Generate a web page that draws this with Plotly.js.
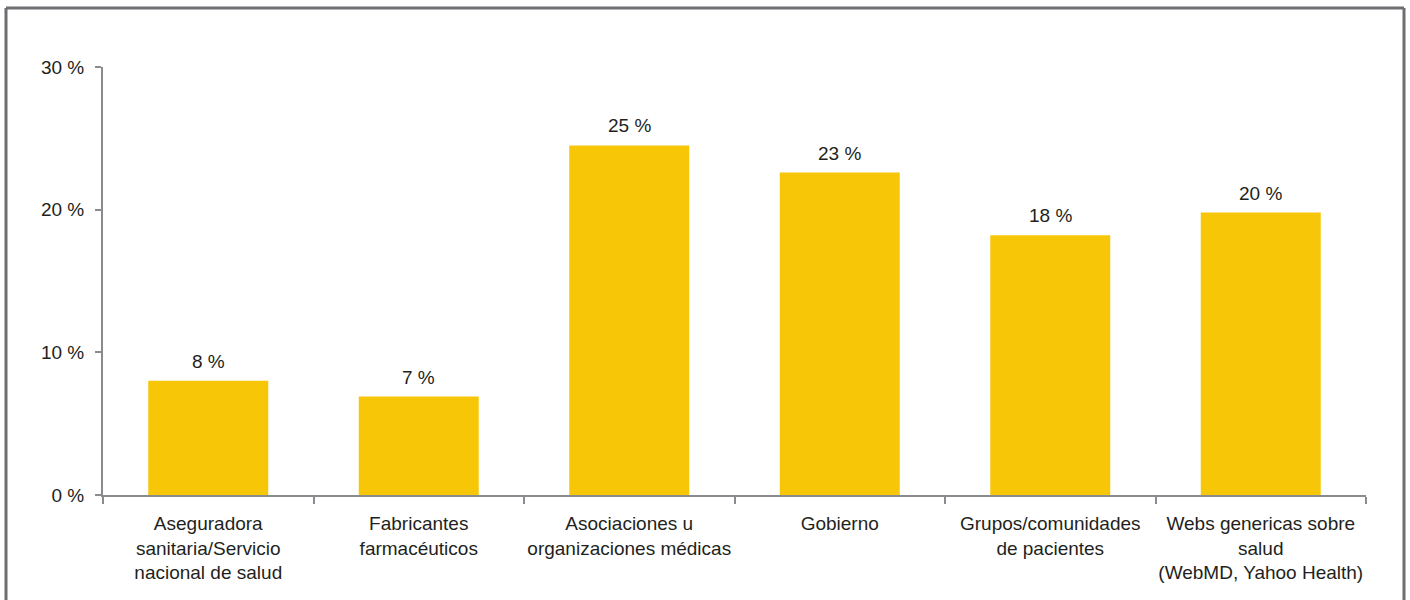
<!DOCTYPE html>
<html>
<head>
<meta charset="utf-8">
<script src="https://cdn.plot.ly/plotly-3.0.1.min.js"></script>
<style>
html,body{margin:0;padding:0;background:#fff;}
#chart{width:1410px;height:600px;}
</style>
</head>
<body>
<div id="chart"></div>
<script>
const categories = [
  "Aseguradora<br>sanitaria/Servicio<br>nacional de salud",
  "Fabricantes<br>farmacéuticos",
  "Asociaciones u<br>organizaciones médicas",
  "Gobierno",
  "Grupos/comunidades<br>de pacientes",
  "Webs genericas sobre<br>salud<br>(WebMD, Yahoo Health)"
];
const values = [8.0, 6.9, 24.5, 22.6, 18.2, 19.8];
const valueLabels = ["8 %", "7 %", "25 %", "23 %", "18 %", "20 %"];
const yTicks = [0, 10, 20, 30];
const yTickLabels = ["0 %", "10 %", "20 %", "30 %"];

const textColor = "#231f20";
const axisColor = "#8a8b8e";
const font = {family: "Liberation Sans, Arial, Helvetica, sans-serif", size: 19, color: textColor};

const trace = {
  type: "bar",
  x: categories,
  y: values,
  marker: {color: "#f7c607", line: {width: 0}},
  width: 0.57,
  hoverinfo: "skip"
};

const annotations = categories.map((c, i) => ({
  x: c,
  y: values[i],
  xref: "x",
  yref: "y",
  text: valueLabels[i],
  showarrow: false,
  yanchor: "bottom",
  yshift: 7,
  font: font
}));

const px = v => (v - 103) / 1263;
const py = v => (495 - v) / 428;

const layout = {
  width: 1410,
  height: 600,
  margin: {l: 103, r: 44, t: 67, b: 105},
  paper_bgcolor: "#ffffff",
  plot_bgcolor: "#ffffff",
  font: font,
  showlegend: false,
  xaxis: {
    type: "category",
    showline: true,
    linecolor: axisColor,
    linewidth: 2,
    ticks: "outside",
    tickson: "boundaries",
    ticklen: 7,
    tickwidth: 2,
    tickcolor: axisColor,
    showgrid: false,
    zeroline: false,
    tickfont: font,
    tickangle: 0,
    ticklabelstandoff: 10,
    automargin: false
  },
  yaxis: {
    range: [0, 30],
    tickvals: yTicks,
    ticktext: yTickLabels,
    showline: true,
    linecolor: axisColor,
    linewidth: 2,
    ticks: "outside",
    ticklen: 6,
    tickwidth: 2,
    tickcolor: axisColor,
    showgrid: false,
    zeroline: false,
    tickfont: font,
    ticklabelstandoff: 7,
    automargin: false
  },
  annotations: annotations,
  shapes: [
    {type: "line", xref: "paper", yref: "paper",
     x0: px(6), x1: px(1404), y0: py(8), y1: py(8),
     line: {color: "#6d6e71", width: 3}},
    {type: "line", xref: "paper", yref: "paper",
     x0: px(6), x1: px(6), y0: py(8), y1: py(610),
     line: {color: "#6d6e71", width: 3}},
    {type: "line", xref: "paper", yref: "paper",
     x0: px(1404), x1: px(1404), y0: py(8), y1: py(610),
     line: {color: "#6d6e71", width: 3}}
  ]
};

Plotly.newPlot("chart", [trace], layout, {displayModeBar: false, staticPlot: true});
</script>
</body>
</html>
